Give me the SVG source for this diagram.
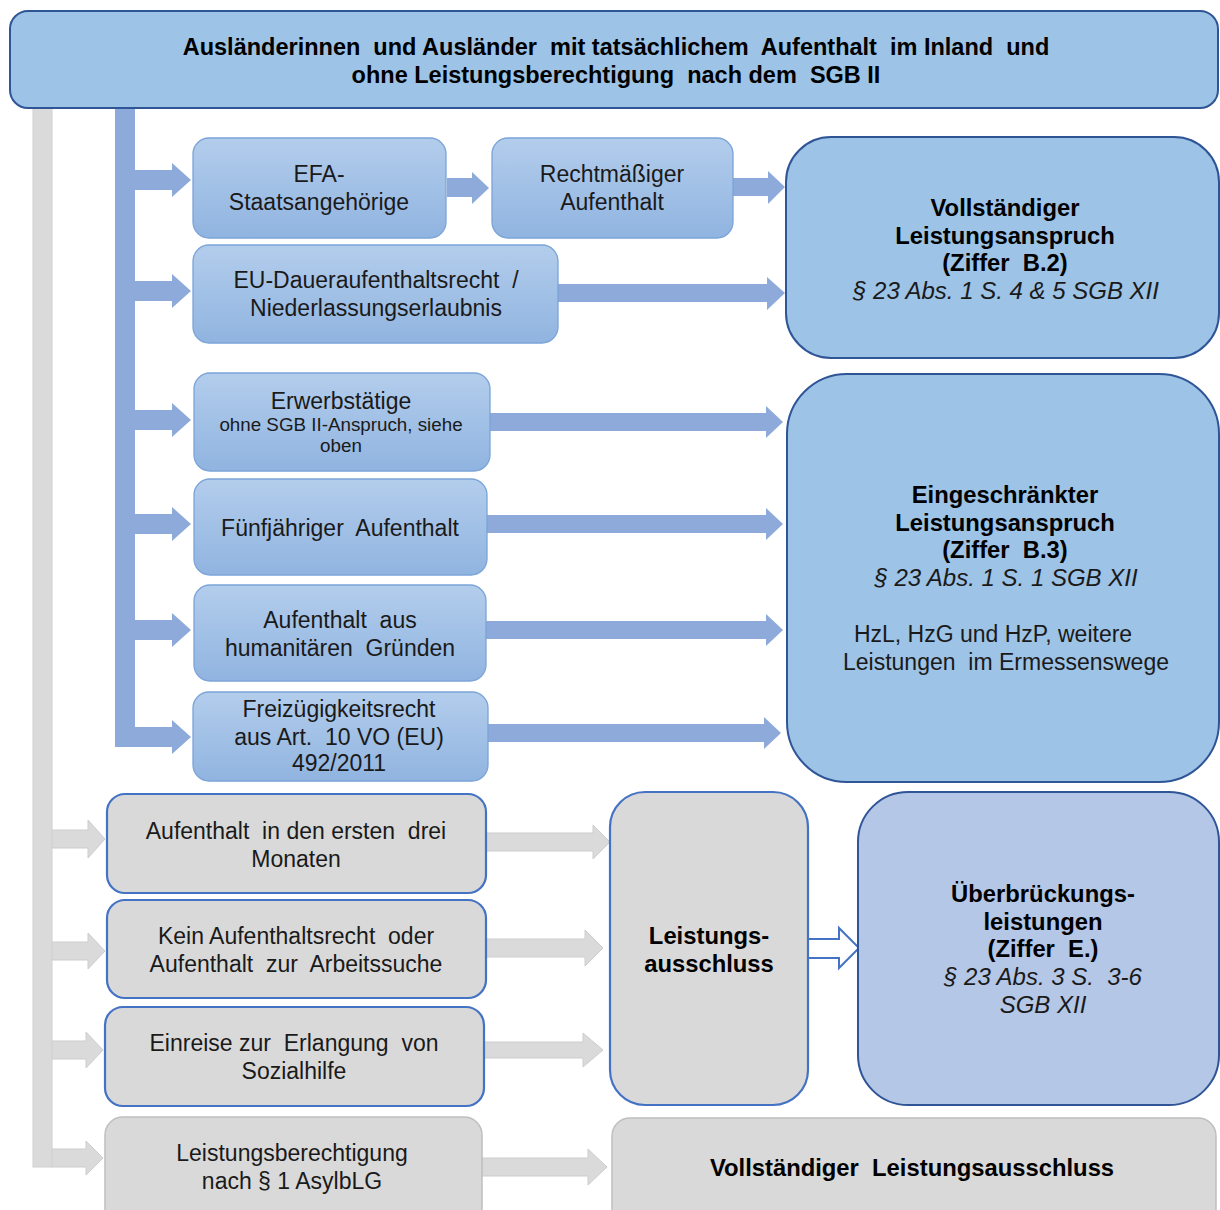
<svg xmlns="http://www.w3.org/2000/svg" width="1220" height="1210" viewBox="0 0 1220 1210">
<defs>
<linearGradient id="gb" x1="0" y1="0" x2="0" y2="1">
<stop offset="0" stop-color="#b3cdec"/>
<stop offset="1" stop-color="#90b4e0"/>
</linearGradient>
</defs>
<style>
text{font-family:"Liberation Sans",Arial,sans-serif;fill:#1a1a1a;text-anchor:middle;white-space:pre}
.r{font-size:23px}
.b{font-size:23.8px;font-weight:bold;fill:#000}
.t{font-size:23.5px;font-weight:bold;fill:#000}
.i{font-size:24px;font-style:italic}
.s{font-size:18.8px}
.sb{fill:url(#gb);stroke:#7ba4d7;stroke-width:1.3}
.big{fill:#9dc3e6;stroke:#2f5597;stroke-width:2}
.gbx{fill:#d9d9d9;stroke:#4472c4;stroke-width:2.2}
.ggx{fill:#d9d9d9;stroke:#bfbfbf;stroke-width:1.5}
.ba{fill:#8eaadb}
.ga{fill:#dadada;stroke:#cdcdcd;stroke-width:1}
</style>

<g id="connectors">
<!-- gray trunk & arrows -->
<rect class="ga" x="33" y="108" width="19" height="1059"/>
<polygon class="ga" points="52,830 88,830 88,820 105,839 88,858 88,848 52,848"/>
<polygon class="ga" points="52,942 88,942 88,933 105,951 88,969 88,960 52,960"/>
<polygon class="ga" points="52,1041 86,1041 86,1032 103,1050 86,1068 86,1059 52,1059"/>
<polygon class="ga" points="52,1149 86,1149 86,1141 103,1158 86,1175 86,1167 52,1167"/>
<rect x="33.5" y="109" width="18" height="1057.5" fill="#dadada"/>
<!-- gray arrows to right -->
<polygon class="ga" points="486,833 593,833 593,825 610,842 593,859 593,851 486,851"/>
<polygon class="ga" points="486,939 585,939 585,930 603,948 585,966 585,957 486,957"/>
<polygon class="ga" points="484,1042 583,1042 583,1033 603,1050 583,1067 583,1058 484,1058"/>
<polygon class="ga" points="482,1158 588,1158 588,1149 607,1167 588,1185 588,1176 482,1176"/>
<!-- hollow arrow -->
<polygon points="808,939 839,939 839,928 859,948 839,968 839,958 808,958" fill="#ffffff" stroke="#4472c4" stroke-width="2"/>
<!-- blue trunk & arrows -->
<rect class="ba" x="115" y="108" width="20" height="639"/>
<polygon class="ba" points="135,170 172,170 172,163 191,180 172,197 172,190 135,190"/>
<polygon class="ba" points="135,281 172,281 172,274 191,291 172,308 172,301 135,301"/>
<polygon class="ba" points="135,410 172,410 172,403 191,420 172,437 172,430 135,430"/>
<polygon class="ba" points="135,514 172,514 172,507 191,524 172,541 172,534 135,534"/>
<polygon class="ba" points="135,620 172,620 172,613 191,630 172,647 172,640 135,640"/>
<polygon class="ba" points="115,727 172,727 172,720 191,737 172,754 172,747 115,747"/>
<!-- right blue arrows -->
<polygon class="ba" points="447,178 472,178 472,172 489,188 472,204 472,197 447,197"/>
<polygon class="ba" points="733,178 768,178 768,171 785,187 768,204 768,196 733,196"/>
<polygon class="ba" points="558,284 767,284 767,277 785,293 767,310 767,302 558,302"/>
<polygon class="ba" points="490,413 766,413 766,406 783,422 766,438 766,431 490,431"/>
<polygon class="ba" points="487,515 766,515 766,508 783,524 766,540 766,533 487,533"/>
<polygon class="ba" points="486,621 766,621 766,614 783,630 766,646 766,639 486,639"/>
<polygon class="ba" points="488,724 764,724 764,717 781,733 764,749 764,742 488,742"/>
</g>

<g id="n-top">
<rect class="big" x="10" y="11" width="1208" height="97" rx="18"/>
<text class="t" x="616" y="55">Ausländerinnen  und Ausländer  mit tatsächlichem  Aufenthalt  im Inland  und</text>
<text class="t" x="616" y="83">ohne Leistungsberechtigung  nach dem  SGB II</text>
</g>

<g id="n-efa">
<rect class="sb" x="193" y="138" width="253" height="100" rx="16"/>
<text class="r" x="319" y="182">EFA-</text>
<text class="r" x="319" y="210">Staatsangehörige</text>
</g>

<g id="n-recht">
<rect class="sb" x="492" y="138" width="241" height="100" rx="16"/>
<text class="r" x="612" y="182">Rechtmäßiger</text>
<text class="r" x="612" y="210">Aufenthalt</text>
</g>

<g id="n-eu">
<rect class="sb" x="193" y="245" width="365" height="98" rx="16"/>
<text class="r" x="376" y="288">EU-Daueraufenthaltsrecht  /</text>
<text class="r" x="376" y="316">Niederlassungserlaubnis</text>
</g>

<g id="n-voll">
<rect class="big" x="786" y="137" width="433" height="221" rx="45"/>
<text class="b" x="1005" y="216">Vollständiger</text>
<text class="b" x="1005" y="244">Leistungsanspruch</text>
<text class="b" x="1005" y="271">(Ziffer  B.2)</text>
<text class="i" x="1006" y="299">§ 23 Abs. 1 S. 4 &amp; 5 SGB XII</text>
</g>

<g id="n-erwerb">
<rect class="sb" x="194" y="373" width="296" height="98" rx="16"/>
<text class="r" x="341" y="409">Erwerbstätige</text>
<text class="s" x="341" y="431">ohne SGB II-Anspruch, siehe</text>
<text class="s" x="341" y="452">oben</text>
</g>

<g id="n-fuenf">
<rect class="sb" x="194" y="479" width="293" height="96" rx="16"/>
<text class="r" x="340" y="536">Fünfjähriger  Aufenthalt</text>
</g>

<g id="n-human">
<rect class="sb" x="194" y="585" width="292" height="96" rx="16"/>
<text class="r" x="340" y="628">Aufenthalt  aus</text>
<text class="r" x="340" y="656">humanitären  Gründen</text>
</g>

<g id="n-freiz">
<rect class="sb" x="193" y="692" width="295" height="89" rx="16"/>
<text class="r" x="339" y="717">Freizügigkeitsrecht</text>
<text class="r" x="339" y="745">aus Art.  10 VO (EU)</text>
<text class="r" x="339" y="771">492/2011</text>
</g>

<g id="n-einge">
<rect class="big" x="787" y="374" width="432" height="408" rx="60"/>
<text class="b" x="1005" y="503">Eingeschränkter</text>
<text class="b" x="1005" y="531">Leistungsanspruch</text>
<text class="b" x="1005" y="558">(Ziffer  B.3)</text>
<text class="i" x="1006" y="586">§ 23 Abs. 1 S. 1 SGB XII</text>
<text class="r" x="993" y="642">HzL, HzG und HzP, weitere</text>
<text class="r" x="1006" y="670">Leistungen  im Ermessenswege</text>
</g>

<g id="n-drei">
<rect class="gbx" x="107" y="794" width="379" height="99" rx="18"/>
<text class="r" x="296" y="839">Aufenthalt  in den ersten  drei</text>
<text class="r" x="296" y="867">Monaten</text>
</g>

<g id="n-kein">
<rect class="gbx" x="107" y="900" width="379" height="98" rx="18"/>
<text class="r" x="296" y="944">Kein Aufenthaltsrecht  oder</text>
<text class="r" x="296" y="972">Aufenthalt  zur  Arbeitssuche</text>
</g>

<g id="n-einreise">
<rect class="gbx" x="105" y="1007" width="379" height="99" rx="18"/>
<text class="r" x="294" y="1051">Einreise zur  Erlangung  von</text>
<text class="r" x="294" y="1079">Sozialhilfe</text>
</g>

<g id="n-asyl">
<rect class="ggx" x="105" y="1117" width="377" height="110" rx="18"/>
<text class="r" x="292" y="1161">Leistungsberechtigung</text>
<text class="r" x="292" y="1189">nach § 1 AsylbLG</text>
</g>

<g id="n-ausschluss">
<rect class="gbx" x="610" y="792" width="198" height="313" rx="35"/>
<text class="b" x="709" y="944">Leistungs-</text>
<text class="b" x="709" y="972">ausschluss</text>
</g>

<g id="n-ueber">
<rect x="858" y="792" width="361" height="313" rx="50" fill="#b4c7e7" stroke="#2f5597" stroke-width="2"/>
<text class="b" x="1043" y="902">Überbrückungs-</text>
<text class="b" x="1043" y="930">leistungen</text>
<text class="b" x="1043" y="957">(Ziffer  E.)</text>
<text class="i" x="1043" y="985">§ 23 Abs. 3 S.  3-6</text>
<text class="i" x="1043" y="1013">SGB XII</text>
</g>

<g id="n-vollaus">
<rect class="ggx" x="612" y="1118" width="604" height="110" rx="18"/>
<text class="b" x="912" y="1176">Vollständiger  Leistungsausschluss</text>
</g>
</svg>
